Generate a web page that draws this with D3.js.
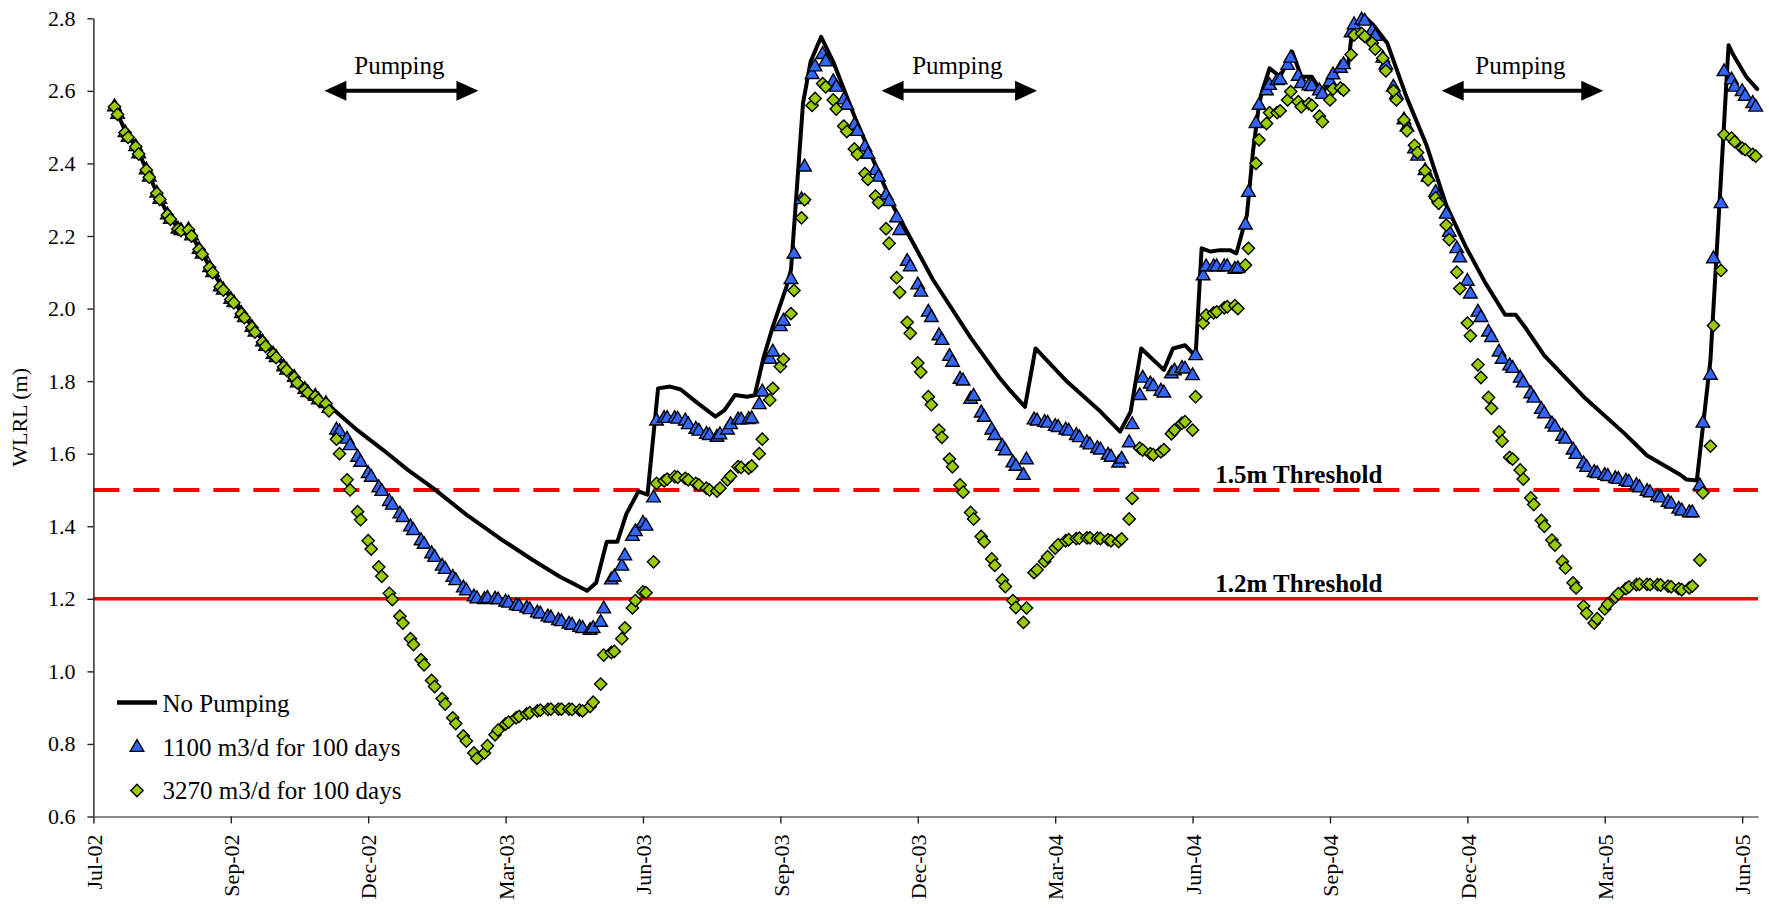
<!DOCTYPE html>
<html>
<head>
<meta charset="utf-8">
<script src="https://cdn.jsdelivr.net/npm/d3@7"></script>
<style>
  html, body { margin: 0; padding: 0; background: #fff; }
  svg { display: block; }
  svg text { font-family: 'Liberation Serif', 'Times New Roman', serif; }
</style>
</head>
<body>
<svg id="chart" width="1769" height="909"></svg>
<script>
// Sampling days, counted from 1 July 2002 (twice-weekly model output)
const sampleDays = [14,16,21,23,28,30,35,37,42,44,49,51,56,58,63,65,70,72,77,79,84,86,91,93,98,100,105,107,112,114,119,121,126,128,133,135,140,142,147,149,154,156,161,163,168,170,175,177,182,184,189,191,196,198,203,205,210,212,217,219,224,226,231,233,238,240,245,247,252,254,259,261,266,268,273,275,280,282,287,289,294,296,301,303,308,310,315,317,322,324,329,331,336,338,343,345,350,352,357,359,364,366,371,373,378,380,385,387,392,394,399,401,406,408,413,415,420,422,427,429,434,436,441,443,448,450,455,457,462,464,469,471,476,478,483,485,490,492,497,499,504,506,511,513,518,520,525,527,532,534,539,541,546,548,553,555,560,562,567,569,574,576,581,583,588,590,595,597,602,604,609,611,616,618,623,625,630,632,637,639,644,646,651,653,658,660,665,667,672,674,679,681,686,688,693,695,700,702,707,709,714,716,721,723,728,730,735,737,742,744,749,751,756,758,763,765,770,772,777,779,784,786,791,793,798,800,805,807,812,814,819,821,826,828,833,835,840,842,847,849,854,856,861,863,868,870,875,877,882,884,889,891,896,898,903,905,910,912,917,919,924,926,931,933,938,940,945,947,952,954,959,961,966,968,973,975,980,982,987,989,994,996,1001,1003,1008,1010,1015,1017,1022,1024,1029,1031,1036,1038,1043,1045,1050,1052,1057,1059,1064,1066,1071,1073,1078,1080,1085,1087,1092,1094,1099,1101];

// WLRL (m) with 1100 m3/d pumped for 100 days
const blueLevels = [2.556,2.535,2.485,2.472,2.446,2.426,2.382,2.362,2.318,2.301,2.258,2.246,2.219,2.215,2.217,2.200,2.163,2.150,2.113,2.099,2.060,2.051,2.025,2.016,1.986,1.975,1.948,1.935,1.908,1.896,1.874,1.865,1.839,1.830,1.810,1.795,1.777,1.768,1.758,1.748,
1.738,1.725,1.665,1.660,1.640,1.622,1.590,1.576,1.545,1.535,1.506,1.496,1.468,1.458,1.434,1.424,1.398,1.388,1.360,1.350,1.324,1.314,1.290,1.281,1.259,1.250,1.230,1.222,1.205,1.200,
1.198,1.201,1.199,1.197,1.191,1.188,1.181,1.179,1.174,1.170,1.161,1.158,1.150,1.147,1.140,1.137,1.130,1.127,1.121,1.118,1.113,1.118,1.135,1.172,1.252,1.260,1.290,1.318,1.372,1.385,
1.408,1.400,1.478,1.690,1.697,1.697,1.697,1.695,1.690,1.680,1.667,1.662,1.653,1.650,1.645,1.652,1.665,1.680,1.693,1.693,1.694,1.696,1.735,1.770,1.860,1.880,1.950,1.965,2.080,2.150,
2.300,2.390,2.645,2.666,2.700,2.680,2.625,2.610,2.575,2.560,2.505,2.488,2.445,2.425,2.380,2.362,2.312,2.295,2.250,2.215,2.130,2.115,2.065,2.045,1.990,1.975,1.925,1.912,1.868,1.852,
1.805,1.800,1.750,1.758,1.712,1.700,1.665,1.650,1.620,1.608,1.575,1.565,1.540,1.583,1.693,1.690,1.686,1.684,1.675,1.672,1.665,1.662,1.650,1.644,1.630,1.624,1.614,1.610,1.596,1.590,
1.574,1.585,1.630,1.680,1.760,1.808,1.792,1.785,1.772,1.767,1.820,1.828,1.835,1.833,1.815,1.870,2.090,2.115,2.115,2.115,2.115,2.115,2.108,2.110,2.230,2.320,2.510,2.560,2.600,2.615,
2.628,2.630,2.670,2.690,2.640,2.620,2.614,2.612,2.600,2.590,2.625,2.644,2.662,2.672,2.760,2.782,2.795,2.792,2.765,2.750,2.690,2.671,2.610,2.589,2.520,2.500,2.440,2.420,2.380,2.362,
2.320,2.305,2.260,2.210,2.165,2.140,2.075,2.040,1.990,1.975,1.935,1.920,1.880,1.860,1.842,1.835,1.808,1.795,1.765,1.753,1.722,1.710,1.682,1.673,1.648,1.640,1.610,1.598,1.572,1.562,
1.548,1.545,1.540,1.537,1.531,1.529,1.524,1.521,1.512,1.506,1.496,1.492,1.482,1.478,1.466,1.461,1.447,1.442,1.437,1.437,1.511,1.684,1.816,2.137,2.289,2.653,2.630,2.610,2.598,2.585,
2.565,2.555];

// WLRL (m) with 3270 m3/d pumped for 100 days
const greenLevels = [2.556,2.535,2.485,2.472,2.446,2.426,2.382,2.362,2.318,2.301,2.258,2.246,2.219,2.215,2.217,2.200,2.163,2.150,2.113,2.099,2.060,2.051,2.025,2.016,1.986,1.975,1.948,1.935,1.908,1.896,1.874,1.865,1.839,1.830,1.810,1.795,1.777,1.768,1.758,1.748,
1.738,1.718,1.640,1.600,1.528,1.500,1.440,1.418,1.360,1.337,1.288,1.262,1.215,1.198,1.152,1.133,1.090,1.074,1.032,1.018,0.975,0.958,0.925,0.910,0.872,0.856,0.822,0.808,0.775,0.760,
0.775,0.795,0.825,0.838,0.855,0.860,0.872,0.876,0.883,0.886,0.891,0.893,0.895,0.896,0.896,0.896,0.896,0.895,0.893,0.891,0.903,0.915,0.965,1.045,1.052,1.055,1.090,1.120,1.175,1.195,
1.219,1.217,1.302,1.518,1.525,1.530,1.537,1.535,1.532,1.528,1.518,1.514,1.505,1.500,1.497,1.505,1.528,1.538,1.564,1.562,1.560,1.566,1.600,1.640,1.748,1.780,1.840,1.860,1.986,2.050,
2.250,2.300,2.560,2.579,2.620,2.611,2.575,2.550,2.503,2.488,2.440,2.425,2.372,2.356,2.310,2.292,2.220,2.180,2.085,2.045,1.962,1.932,1.850,1.825,1.757,1.735,1.665,1.645,1.585,1.564,
1.514,1.494,1.438,1.420,1.372,1.357,1.310,1.292,1.252,1.234,1.195,1.176,1.135,1.175,1.272,1.280,1.303,1.316,1.340,1.349,1.360,1.363,1.366,1.367,1.368,1.368,1.367,1.366,1.363,1.360,
1.358,1.365,1.420,1.477,1.615,1.610,1.600,1.597,1.605,1.611,1.655,1.665,1.684,1.688,1.665,1.757,1.960,1.982,1.988,1.991,2.002,2.005,2.008,2.000,2.120,2.166,2.400,2.465,2.510,2.540,
2.540,2.545,2.575,2.598,2.570,2.556,2.565,2.560,2.530,2.515,2.575,2.605,2.608,2.602,2.700,2.754,2.758,2.750,2.732,2.715,2.690,2.655,2.600,2.575,2.520,2.490,2.450,2.430,2.380,2.355,
2.305,2.290,2.230,2.190,2.100,2.055,1.960,1.925,1.845,1.810,1.755,1.725,1.660,1.635,1.590,1.585,1.555,1.530,1.478,1.460,1.416,1.400,1.362,1.348,1.303,1.285,1.244,1.230,1.180,1.160,
1.133,1.145,1.172,1.185,1.205,1.214,1.228,1.233,1.239,1.240,1.240,1.239,1.239,1.238,1.235,1.233,1.228,1.225,1.230,1.235,1.307,1.492,1.621,1.953,2.105,2.479,2.470,2.460,2.442,2.438,
2.425,2.420];

// No-pumping water level: vertices of the line
const lineDays = [14,21,28,35,42,49,56,63,70,77,84,91,98,105,112,119,126,133,140,147,154,159,175,192,208,225,247,269,291,309,327,333,340,347,353,361,367,374,382,389,400,412,418,425,433,438,444,450,459,462,466,470,475,482,490,505,530,556,581,600,607,617,624,645,667,680,687,694,709,715,723,730,734,740,746,753,757,764,768,772,774,779,786,794,800,807,814,819,826,831,834,840,843,848,857,870,883,896,909,922,935,942,948,961,987,1014,1029,1051,1055,1062,1071,1077,1083,1086,1095,1102];
const lineLevels = [2.556,2.49,2.447,2.385,2.32,2.262,2.222,2.216,2.166,2.116,2.068,2.03,1.99,1.952,1.914,1.88,1.846,1.815,1.785,1.76,1.738,1.722,1.664,1.610,1.556,1.505,1.432,1.367,1.307,1.261,1.222,1.244,1.357,1.357,1.434,1.496,1.487,1.780,1.785,1.777,1.74,1.702,1.720,1.762,1.757,1.761,1.867,1.950,2.060,2.106,2.336,2.566,2.680,2.749,2.68,2.52,2.28,2.08,1.92,1.81,1.775,1.729,1.890,1.798,1.716,1.661,1.716,1.890,1.831,1.890,1.899,1.868,2.166,2.157,2.161,2.161,2.152,2.258,2.432,2.561,2.598,2.662,2.639,2.708,2.639,2.639,2.593,2.630,2.662,2.670,2.777,2.80,2.80,2.78,2.731,2.580,2.450,2.285,2.170,2.070,1.983,1.983,1.950,1.870,1.757,1.656,1.595,1.542,1.529,1.526,1.858,2.289,2.726,2.70,2.637,2.605];

// Axis ticks: one every 91 days from 1 July 2002
const tickDays = [0,91,182,273,364,455,546,637,728,819,910,1001,1092];
const tickLabels = ["Jul-02","Sep-02","Dec-02","Mar-03","Jun-03","Sep-03","Dec-03","Mar-04","Jun-04","Sep-04","Dec-04","Mar-05","Jun-05"];
const yTicks = [0.6,0.8,1.0,1.2,1.4,1.6,1.8,2.0,2.2,2.4,2.6,2.8];

// Pumping windows (start day, end day) and threshold levels
const pumpingPeriods = [[153,255],[522,625],[893,1000]];
const thresholdLevels = [1.5,1.2];
const thresholdLabels = ["1.5m Threshold","1.2m Threshold"];
const seriesNames = ["No Pumping","1100 m3/d for 100 days","3270 m3/d for 100 days"];

const SERIF = "'Liberation Serif', 'Times New Roman', serif";
const ORIGIN = Date.UTC(2002, 6, 1);
const DAY_MS = 864e5;
const toDate = d => new Date(ORIGIN + d * DAY_MS);

const svg = d3.select("#chart");
svg.append("rect").attr("width", 1769).attr("height", 909).attr("fill", "#fff");

const plotLeft = 93.4, plotRight = 1758, plotTop = 18.3, plotBottom = 816.5;
const x = d3.scaleUtc().domain([toDate(0), toDate(1102.5)]).range([plotLeft, plotRight]);
const y = d3.scaleLinear().domain([0.6, 2.8]).range([plotBottom, plotTop]);

// Threshold lines
const thrG = svg.append("g");
thresholdLevels.forEach((v, i) => {
  thrG.append("line")
    .attr("x1", plotLeft).attr("x2", plotRight)
    .attr("y1", y(v)).attr("y2", y(v))
    .attr("stroke", "#ff0000")
    .attr("stroke-width", i === 0 ? 4 : 3.6)
    .attr("stroke-dasharray", i === 0 ? "26 14" : null);
  thrG.append("text")
    .attr("x", x(toDate(743))).attr("y", y(v) - 7)
    .style("font-family", SERIF).style("font-size", "25px").style("font-weight", "bold")
    .text(thresholdLabels[i]);
});

// Axes
const yAxis = d3.axisLeft(y).tickValues(yTicks).tickFormat(d3.format(".1f"))
  .tickSize(6).tickSizeOuter(0).tickPadding(12);
const gy = svg.append("g").attr("transform", `translate(${plotLeft},0)`).call(yAxis);
gy.select(".domain").attr("stroke", "#222").attr("stroke-width", 1.4);
gy.selectAll(".tick line").attr("stroke", "#222").attr("stroke-width", 1.4);
gy.selectAll(".tick text").attr("fill", "#000")
  .style("font-family", SERIF).style("font-size", "22px");

const xAxis = d3.axisBottom(x).tickValues(tickDays.map(toDate))
  .tickFormat((d, i) => tickLabels[i]).tickSize(7).tickSizeOuter(0);
const gx = svg.append("g").attr("transform", `translate(0,${plotBottom})`).call(xAxis);
gx.select(".domain").attr("stroke", "#888").attr("stroke-width", 2);
gx.selectAll(".tick line").attr("stroke", "#222").attr("stroke-width", 1.4);
gx.selectAll(".tick text")
  .attr("fill", "#000")
  .style("font-family", SERIF).style("font-size", "22px")
  .attr("transform", "rotate(-90)")
  .attr("text-anchor", "end")
  .attr("x", -18).attr("y", 0).attr("dy", "0.35em");

// Y title
svg.append("text")
  .attr("transform", `translate(27,${(plotTop + plotBottom) / 2}) rotate(-90)`)
  .attr("text-anchor", "middle")
  .style("font-family", SERIF).style("font-size", "22px")
  .text("WLRL (m)");

// No-pumping line
const linePts = lineDays.map((d, i) => [toDate(d), lineLevels[i]]);
svg.append("path")
  .datum(linePts)
  .attr("fill", "none").attr("stroke", "#000").attr("stroke-width", 4)
  .attr("stroke-linejoin", "round").attr("stroke-linecap", "round")
  .attr("d", d3.line().x(p => x(p[0])).y(p => y(p[1])));

// Marker series
const triangle = d3.symbol(d3.symbolTriangle, 80)();
const diamond = d3.symbol(d3.symbolSquare, 76)();

svg.append("g").selectAll("path")
  .data(sampleDays.map((d, i) => [toDate(d), blueLevels[i]]))
  .join("path")
  .attr("d", triangle)
  .attr("transform", p => `translate(${x(p[0])},${y(p[1])})`)
  .attr("fill", "#3366ff").attr("stroke", "#000").attr("stroke-width", 1.4);

svg.append("g").selectAll("path")
  .data(sampleDays.map((d, i) => [toDate(d), greenLevels[i]]))
  .join("path")
  .attr("d", diamond)
  .attr("transform", p => `translate(${x(p[0])},${y(p[1])}) rotate(45)`)
  .attr("fill", "#99cc00").attr("stroke", "#000").attr("stroke-width", 1.4);

// Pumping annotations
const arrowY = y(2.6);
pumpingPeriods.forEach(([s, e]) => {
  const x0 = x(toDate(s)), x1 = x(toDate(e));
  const g = svg.append("g");
  g.append("line").attr("x1", x0 + 18).attr("x2", x1 - 18)
    .attr("y1", arrowY).attr("y2", arrowY)
    .attr("stroke", "#000").attr("stroke-width", 4);
  g.append("path").attr("fill", "#000")
    .attr("d", `M${x0},${arrowY}L${x0 + 22},${arrowY - 10}L${x0 + 22},${arrowY + 10}Z`);
  g.append("path").attr("fill", "#000")
    .attr("d", `M${x1},${arrowY}L${x1 - 22},${arrowY - 10}L${x1 - 22},${arrowY + 10}Z`);
  g.append("text").attr("x", (x0 + x1) / 2 - 2).attr("y", arrowY - 16.5)
    .attr("text-anchor", "middle")
    .style("font-family", SERIF).style("font-size", "25px")
    .text("Pumping");
});

// Legend
const lg = svg.append("g");
lg.append("line").attr("x1", 117).attr("x2", 157).attr("y1", 702.5).attr("y2", 702.5)
  .attr("stroke", "#000").attr("stroke-width", 4.5);
lg.append("path").attr("d", triangle).attr("transform", "translate(137,747.5)")
  .attr("fill", "#3366ff").attr("stroke", "#000").attr("stroke-width", 1.4);
lg.append("path").attr("d", diamond).attr("transform", "translate(137,790.5) rotate(45)")
  .attr("fill", "#99cc00").attr("stroke", "#000").attr("stroke-width", 1.4);
[711.5, 756, 799].forEach((yy, i) => {
  lg.append("text").attr("x", 162.5).attr("y", yy)
    .style("font-family", SERIF).style("font-size", "25px")
    .text(seriesNames[i]);
});
</script>
</body>
</html>
